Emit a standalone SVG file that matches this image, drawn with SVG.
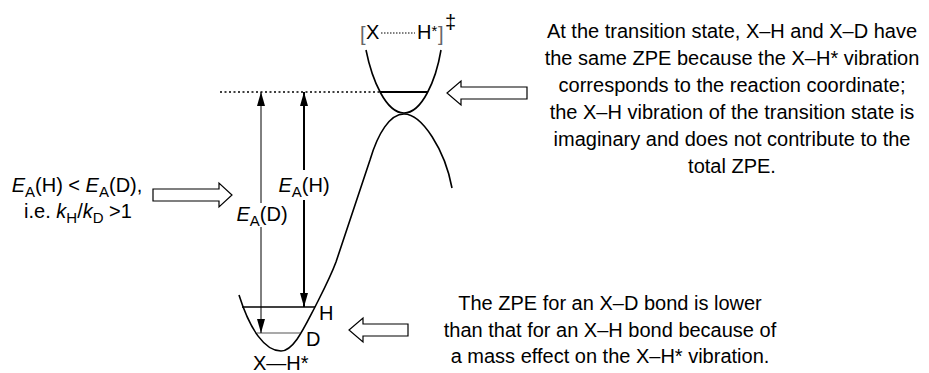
<svg xmlns="http://www.w3.org/2000/svg" width="929" height="373" viewBox="0 0 929 373">
<defs>
<style>
text{font-family:"Liberation Sans",Arial,sans-serif;font-size:20px;fill:#000}
.c{text-anchor:middle}
.it{font-style:italic}
.sub{font-size:15px}
.curve{fill:none;stroke:#000;stroke-width:1.6}
.hollow{fill:#fff;stroke:#000;stroke-width:1.2}
</style>
<marker id="ah" viewBox="0 0 14 8" refX="14" refY="4" markerWidth="14" markerHeight="8" markerUnits="userSpaceOnUse" orient="auto-start-reverse">
<path d="M0,0 L14,4 L0,8 Z" fill="#000"/>
</marker>
</defs>

<g id="curves">
<path class="curve" d="M452,188 C445,150 422,114 404,114 C390,114 378,133 370,160 L336,262 C330,278 322,293 315,307 C305,326 294,351 281,351 C265,351 250,330 239,295"/>
<path class="curve" d="M366,50 C372,80 386,113 404,113 C422,113 436,80 441,50"/>
</g>

<g id="levels">
<line x1="220" y1="92" x2="380" y2="92" stroke="#000" stroke-width="1.5" stroke-dasharray="2,2.5"/>
<line x1="380" y1="92" x2="428" y2="92" stroke="#000" stroke-width="2"/>
<line x1="242" y1="307" x2="315" y2="307" stroke="#000" stroke-width="1.6"/>
<line x1="257" y1="333" x2="300" y2="333" stroke="#555" stroke-width="1.2"/>
</g>

<g id="connectors">
<line x1="261" y1="203" x2="261" y2="92" stroke="#000" stroke-width="1" marker-end="url(#ah)"/>
<line x1="261" y1="227" x2="261" y2="333" stroke="#000" stroke-width="1" marker-end="url(#ah)"/>
<line x1="304" y1="170" x2="304" y2="92" stroke="#000" stroke-width="2" marker-end="url(#ah)"/>
<line x1="304" y1="200" x2="304" y2="307" stroke="#000" stroke-width="2" marker-end="url(#ah)"/>
<polygon class="hollow" points="153,189 219,189 219,183 232,195 219,207 219,201 153,201"/>
<polygon class="hollow" points="527,87 461,87 461,81 447,93 461,105 461,99 527,99"/>
<polygon class="hollow" points="408,324 363,324 363,318 349,330 363,342 363,336 408,336"/>
</g>

<g id="ts-label">
<text x="360" y="41" style="fill:#666">[</text>
<text x="366" y="39">X</text>
<line x1="381" y1="33" x2="415" y2="33" stroke="#000" stroke-width="1" stroke-dasharray="1.5,1.5"/>
<text x="417" y="39">H<tspan font-size="15" dy="-3">*</tspan></text>
<text x="438" y="41" style="fill:#666">]</text>
<text x="445" y="29" font-size="17">‡</text>
</g>

<g id="well-labels">
<text x="319" y="320">H</text>
<text x="306" y="346">D</text>
<text x="253" y="370">X—H*</text>
</g>

<g id="ea-labels">
<text class="c" x="304" y="192"><tspan class="it">E</tspan><tspan class="sub" dy="5">A</tspan><tspan dy="-5">(H)</tspan></text>
<text class="c" x="262" y="221"><tspan class="it">E</tspan><tspan class="sub" dy="5">A</tspan><tspan dy="-5">(D)</tspan></text>
</g>

<g id="left-note">
<text class="c" x="77" y="192"><tspan class="it">E</tspan><tspan class="sub" dy="5">A</tspan><tspan dy="-5">(H) &lt; </tspan><tspan class="it">E</tspan><tspan class="sub" dy="5">A</tspan><tspan dy="-5">(D),</tspan></text>
<text class="c" x="78" y="218">i.e. <tspan class="it">k</tspan><tspan class="sub" dy="5">H</tspan><tspan dy="-5">/</tspan><tspan class="it">k</tspan><tspan class="sub" dy="5">D</tspan><tspan dy="-5"> &gt;1</tspan></text>
</g>

<g id="ts-note">
<text class="c" x="732" y="38">At the transition state, X–H and X–D have</text>
<text class="c" x="732" y="65">the same ZPE because the X–H* vibration</text>
<text class="c" x="732" y="92">corresponds to the reaction coordinate;</text>
<text class="c" x="732" y="119">the X–H vibration of the transition state is</text>
<text class="c" x="732" y="146">imaginary and does not contribute to the</text>
<text class="c" x="732" y="173">total ZPE.</text>
</g>

<g id="zpe-note">
<text class="c" x="610" y="310">The ZPE for an X–D bond is lower</text>
<text class="c" x="610" y="337">than that for an X–H bond because of</text>
<text class="c" x="610" y="363">a mass effect on the X–H* vibration.</text>
</g>
</svg>
